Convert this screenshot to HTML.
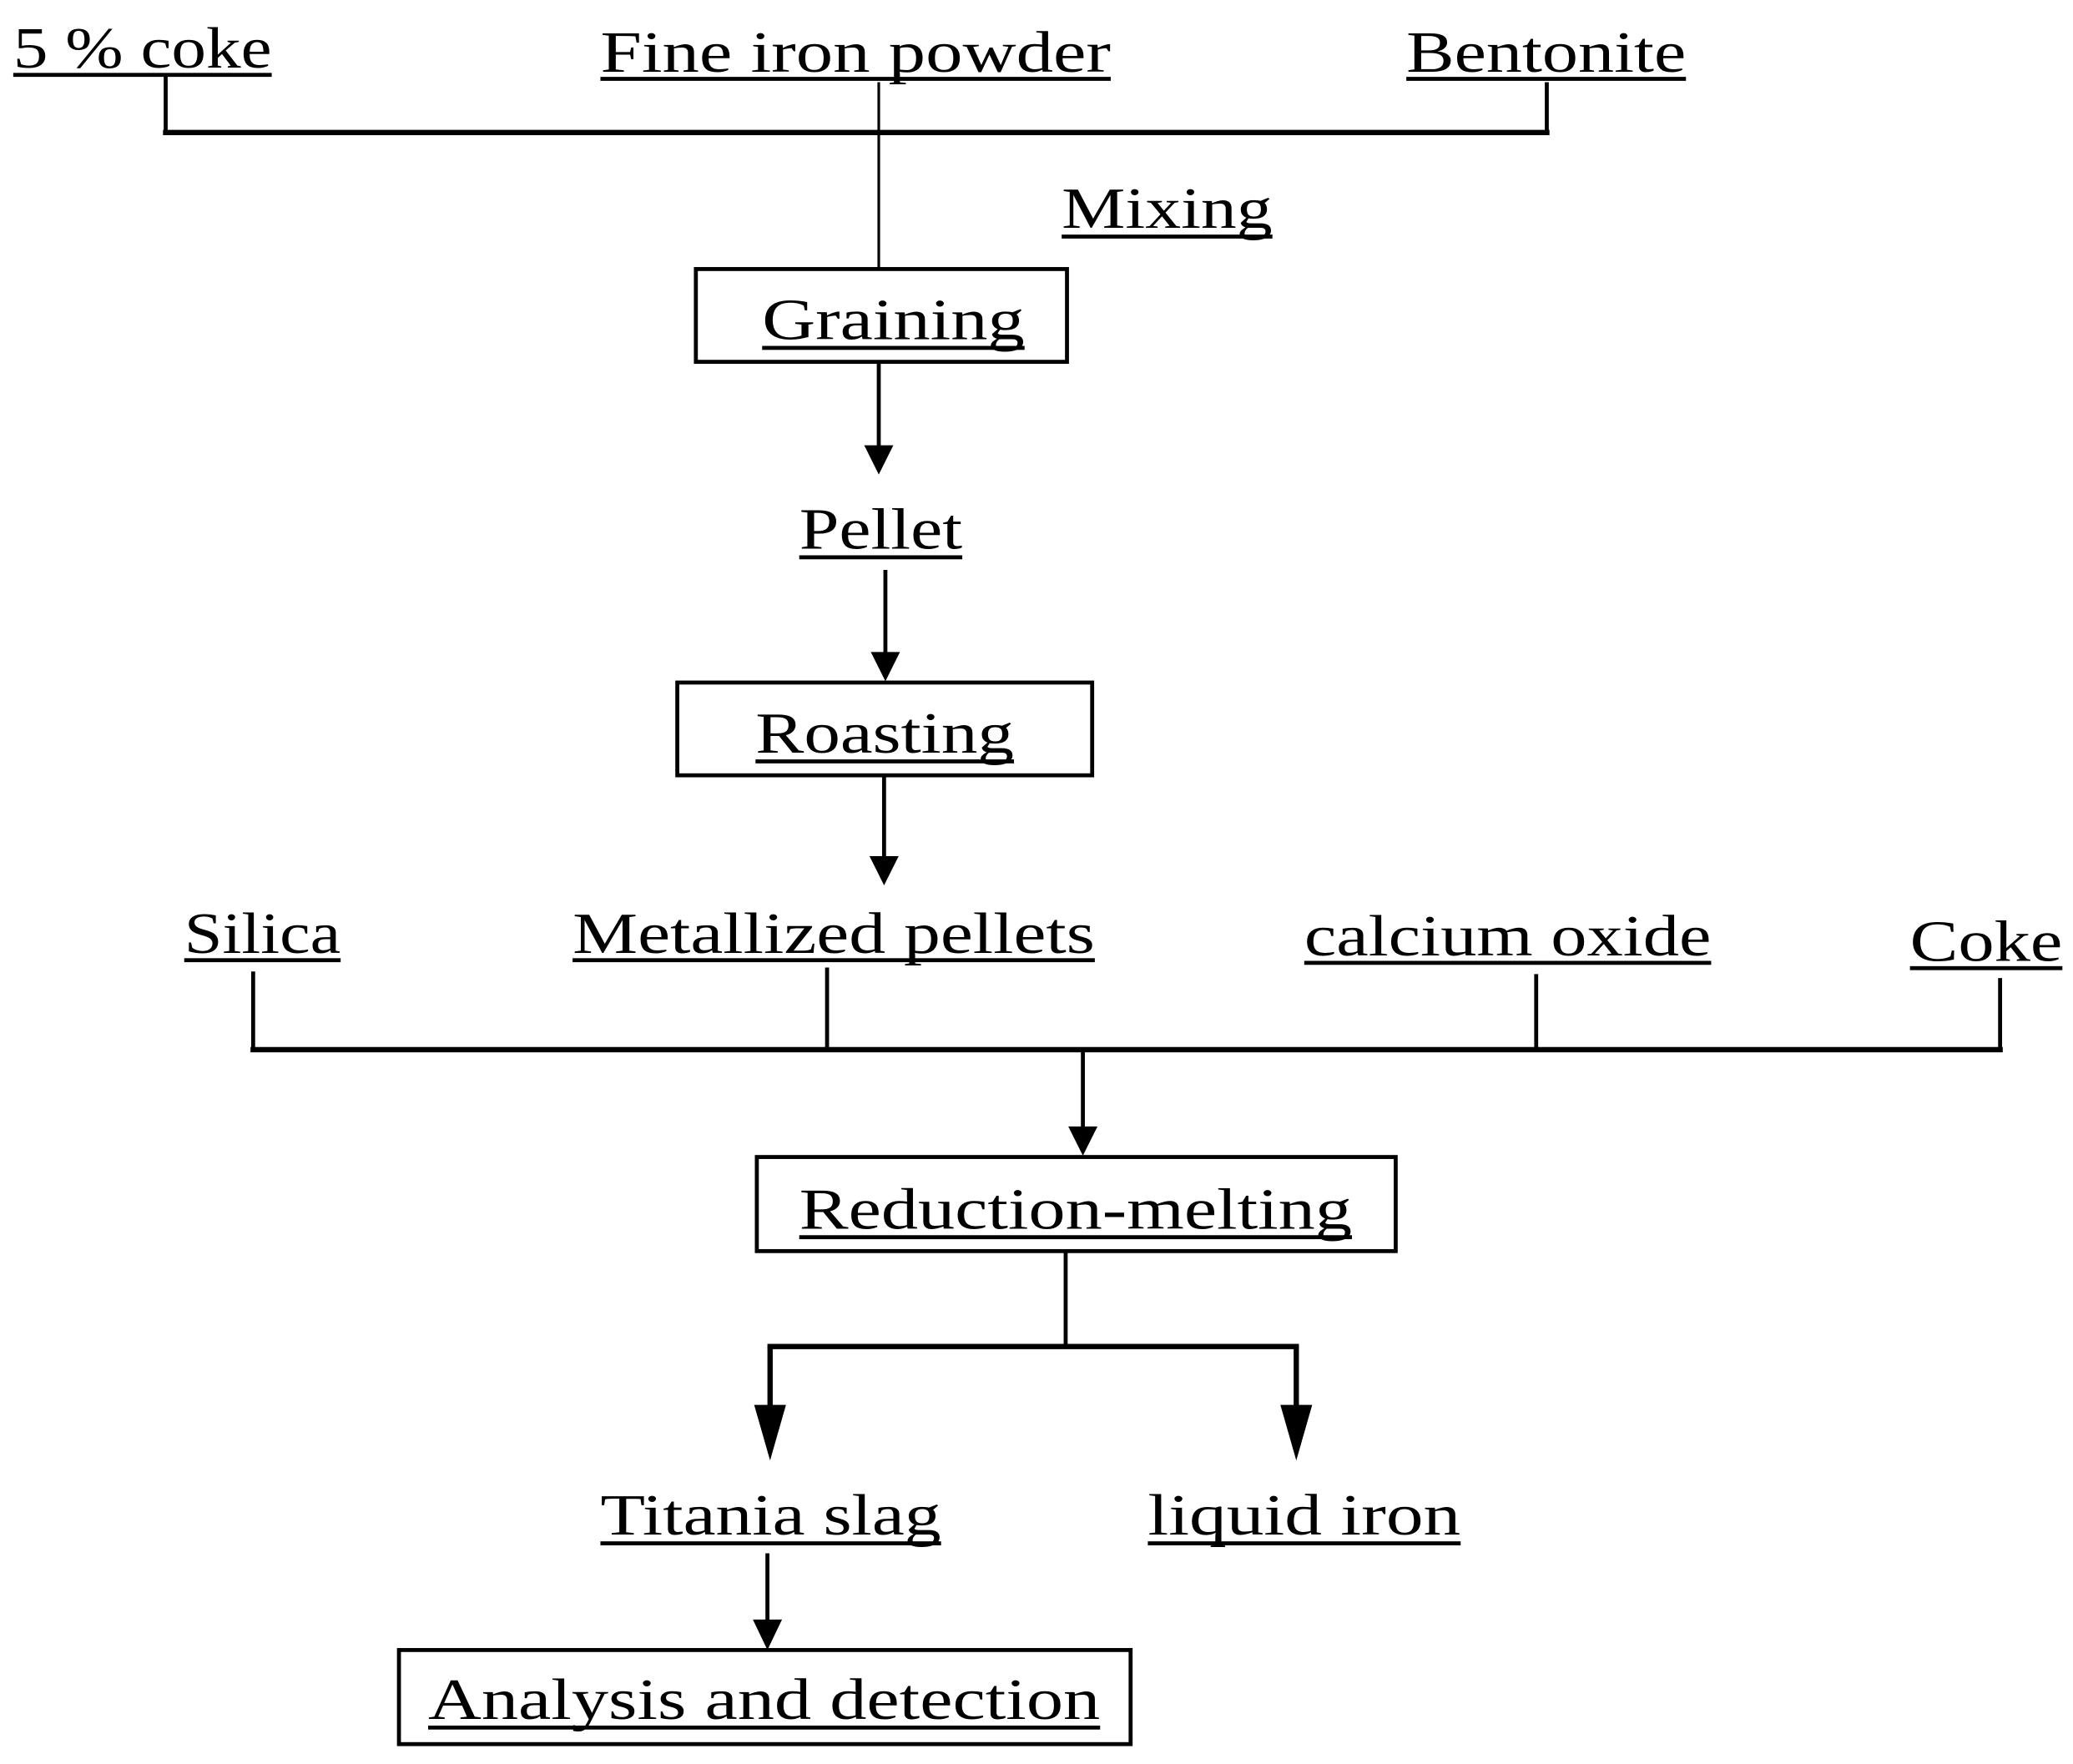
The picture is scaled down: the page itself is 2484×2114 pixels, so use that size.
<!DOCTYPE html>
<html><head><meta charset="utf-8"><style>
html,body{margin:0;padding:0;background:#fff;}
svg{display:block;}
text{font-family:"Liberation Serif",serif;font-size:44px;fill:#000;}
</style></head><body>
<svg width="2484" height="2114" viewBox="0 0 1564 1331" preserveAspectRatio="none" xmlns="http://www.w3.org/2000/svg">
<defs>
<marker id="a" markerWidth="24" markerHeight="22" refX="12" refY="22" orient="auto" markerUnits="userSpaceOnUse" viewBox="0 0 24 22">
</marker>
</defs>
<g stroke="#000" fill="none">
<!-- top -->
<line x1="125" y1="57" x2="125" y2="100" stroke-width="3"/>
<line x1="1167" y1="62" x2="1167" y2="100" stroke-width="3"/>
<line x1="123" y1="100" x2="1169" y2="100" stroke-width="4"/>
<line x1="663" y1="62" x2="663" y2="203" stroke-width="2"/>
<rect x="525" y="203" width="280" height="70" stroke-width="3"/>
<line x1="663" y1="273" x2="663" y2="340" stroke-width="3"/>
<line x1="668" y1="430" x2="668" y2="495" stroke-width="3"/>
<rect x="511" y="515" width="313" height="70" stroke-width="3"/>
<line x1="667" y1="585" x2="667" y2="650" stroke-width="3"/>
<!-- mid -->
<line x1="191" y1="733" x2="191" y2="792" stroke-width="3"/>
<line x1="624" y1="730" x2="624" y2="792" stroke-width="3"/>
<line x1="1159" y1="735" x2="1159" y2="792" stroke-width="3"/>
<line x1="1509" y1="738" x2="1509" y2="792" stroke-width="3"/>
<line x1="189" y1="792" x2="1511" y2="792" stroke-width="4"/>
<line x1="817" y1="792" x2="817" y2="852" stroke-width="3"/>
<rect x="571" y="873" width="482" height="71" stroke-width="3"/>
<line x1="804" y1="944" x2="804" y2="1016" stroke-width="3"/>
<line x1="579" y1="1016" x2="980" y2="1016" stroke-width="4"/>
<line x1="581" y1="1016" x2="581" y2="1065" stroke-width="4"/>
<line x1="978" y1="1016" x2="978" y2="1065" stroke-width="4"/>
<line x1="579" y1="1172" x2="579" y2="1225" stroke-width="3"/>
<rect x="301" y="1245" width="552" height="71" stroke-width="3"/>
</g>
<g fill="#000">
<polygon points="652,336 674,336 663,358"/>
<polygon points="657,492 679,492 668,514"/>
<polygon points="656,646 678,646 667,668"/>
<polygon points="806,850 828,850 817,872"/>
<polygon points="569,1060 593,1060 581,1102"/>
<polygon points="966,1060 990,1060 978,1102"/>
<polygon points="568,1222 590,1222 579,1245"/>
<!-- underlines -->
<rect x="10" y="55" width="195" height="3"/>
<rect x="453" y="58" width="385" height="3"/>
<rect x="1061" y="58" width="211" height="3"/>
<rect x="801" y="177" width="159" height="3"/>
<rect x="575" y="261" width="198" height="3"/>
<rect x="603" y="419" width="123" height="3"/>
<rect x="570" y="573" width="195" height="3"/>
<rect x="139" y="723" width="118" height="3"/>
<rect x="432" y="723" width="394" height="3"/>
<rect x="984" y="725" width="307" height="3"/>
<rect x="1441" y="729" width="115" height="3"/>
<rect x="603" y="932" width="417" height="3"/>
<rect x="453" y="1163" width="257" height="3"/>
<rect x="866" y="1163" width="236" height="3"/>
<rect x="323" y="1302" width="507" height="3"/>
</g>
<text x="10" y="51" textLength="195" lengthAdjust="spacingAndGlyphs">5 % coke</text>
<text x="453" y="54" textLength="385" lengthAdjust="spacingAndGlyphs">Fine iron powder</text>
<text x="1061" y="54" textLength="211" lengthAdjust="spacingAndGlyphs">Bentonite</text>
<text x="801" y="172" textLength="159" lengthAdjust="spacingAndGlyphs">Mixing</text>
<text x="575" y="256" textLength="198" lengthAdjust="spacingAndGlyphs">Graining</text>
<text x="603" y="414" textLength="123" lengthAdjust="spacingAndGlyphs">Pellet</text>
<text x="570" y="568" textLength="195" lengthAdjust="spacingAndGlyphs">Roasting</text>
<text x="139" y="719" textLength="118" lengthAdjust="spacingAndGlyphs">Silica</text>
<text x="432" y="719" textLength="394" lengthAdjust="spacingAndGlyphs">Metallized pellets</text>
<text x="984" y="721" textLength="307" lengthAdjust="spacingAndGlyphs">calcium oxide</text>
<text x="1441" y="725" textLength="115" lengthAdjust="spacingAndGlyphs">Coke</text>
<text x="603" y="927" textLength="417" lengthAdjust="spacingAndGlyphs">Reduction-melting</text>
<text x="453" y="1158" textLength="257" lengthAdjust="spacingAndGlyphs">Titania slag</text>
<text x="866" y="1158" textLength="236" lengthAdjust="spacingAndGlyphs">liquid iron</text>
<text x="323" y="1297" textLength="507" lengthAdjust="spacingAndGlyphs">Analysis and detection</text>
</svg>
</body></html>
